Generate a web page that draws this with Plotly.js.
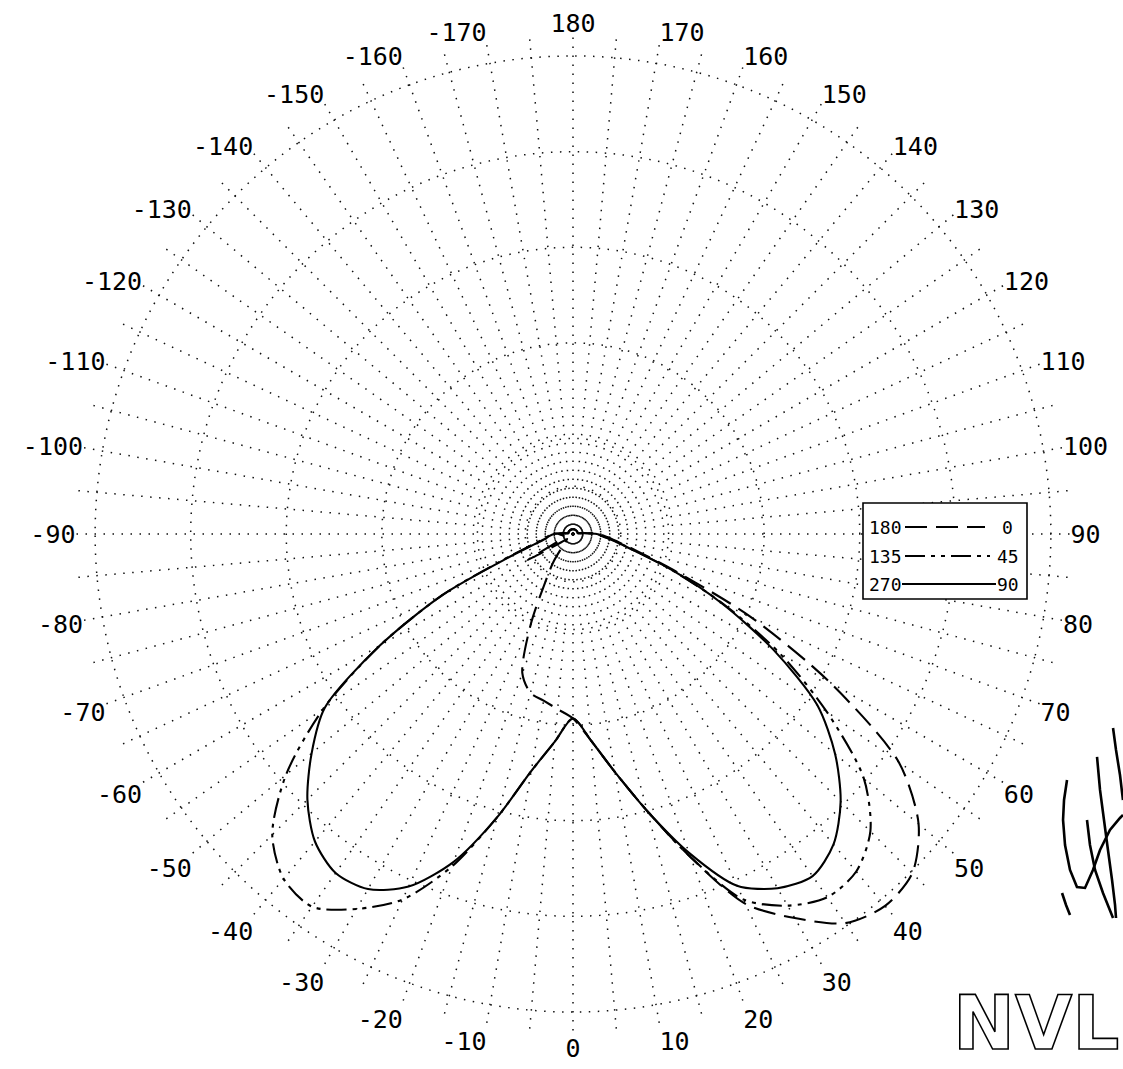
<!DOCTYPE html>
<html><head><meta charset="utf-8">
<script src="https://cdn.plot.ly/plotly-3.0.1.min.js"></script>
<style>html,body{margin:0;padding:0;background:#fff;}</style>
</head><body>
<div id="chart" style="width:1123px;height:1069px;"></div>
<script>
// Vertical angle (0 = nadir), negative = left half-plane, positive = right half-plane
const angles = [-180,-175,-170,-165,-160,-155,-150,-145,-140,-135,-130,-125,-120,-115,-110,-105,-100,
  -95,-90,-85,-80,-75,-70,-65,-60,-55,-50,-45,-40,-35,-30,-25,-20,-15,-10,-5,
  0,
  5,10,15,20,25,30,35,40,45,50,55,60,65,70,75,80,85,90,95,
  100,105,110,115,120,125,130,135,140,145,150,155,160,165,170,175,180];

// Plane C180 (left) - C0 (right)
const plane180_0 = [0.05,0.05,0.05,0.05,0.05,0.05,0.05,0.05,0.05,0.05,0.05,0.05,0.05,0.05,0.05,0.05,0.05,
  0.08,0.15,0.12,0.10,0.10,0.10,0.15,0.55,0.15,0.08,0.10,0.17,0.36,0.58,1.05,1.55,1.72,1.77,1.84,
  1.93,
  2.17,2.53,3.00,3.60,4.27,4.64,4.97,5.08,5.02,4.72,4.16,3.10,2.05,1.15,0.70,0.48,0.36,0.27,0.12,
  0.05,0.05,0.05,0.05,0.05,0.05,0.05,0.05,0.05,0.05,0.05,0.05,0.05,0.05,0.05,0.05,0.05];

// Plane C135 (left) - C45 (right)
const plane135_45 = [0.05,0.05,0.05,0.05,0.05,0.05,0.05,0.05,0.05,0.05,0.05,0.05,0.05,0.05,0.05,0.05,0.05,
  0.10,0.22,0.26,0.32,0.45,0.75,1.50,2.33,3.19,3.92,4.45,4.71,4.76,4.53,4.22,3.70,3.07,2.52,2.18,
  1.93,
  2.17,2.53,3.00,3.60,4.22,4.49,4.64,4.61,4.40,3.97,3.24,2.50,1.74,1.10,0.66,0.46,0.33,0.25,0.10,
  0.05,0.05,0.05,0.05,0.05,0.05,0.05,0.05,0.05,0.05,0.05,0.05,0.05,0.05,0.05,0.05,0.05];

// Plane C270 (left) - C90 (right)
const plane270_90 = [0.05,0.05,0.05,0.05,0.05,0.05,0.05,0.05,0.05,0.05,0.05,0.05,0.05,0.05,0.05,0.05,0.05,
  0.10,0.20,0.25,0.30,0.42,0.72,1.50,2.33,3.17,3.57,3.93,4.20,4.33,4.29,4.07,3.65,3.07,2.52,2.18,
  1.93,
  2.17,2.53,3.00,3.55,4.06,4.28,4.37,4.24,3.96,3.58,3.12,2.42,1.72,1.10,0.65,0.45,0.32,0.25,0.10,
  0.05,0.05,0.05,0.05,0.05,0.05,0.05,0.05,0.05,0.05,0.05,0.05,0.05,0.05,0.05,0.05,0.05];

// Angular tick positions (every 5 deg) and labels (every 10 deg)
const tickAngles = [0,5,10,15,20,25,30,35,40,45,50,55,60,65,70,75,80,85,90,95,100,105,110,115,120,125,130,135,140,145,150,155,160,165,170,175,
  180,185,190,195,200,205,210,215,220,225,230,235,240,245,250,255,260,265,270,275,280,285,290,295,300,305,310,315,320,325,330,335,340,345,350,355];
const tickLabels = ['0','','10','','20','','30','','40','','50','','60','','70','','80','','90','','100','','110','','120','','130','','140','','150','','160','','170','',
  '180','','-170','','-160','','-150','','-140','','-130','','-120','','-110','','-100','','-90','','-80','','-70','','-60','','-50','','-40','','-30','','-20','','-10',''];

const radialGrid = [0.5,1,2,3,4,5];

// legend labels
const legendLeft = ['180','135','270'];
const legendRight = ['0','45','90'];
const dashes = ['22px,9px','20px,6px,4px,6px,4px,6px','solid'];

const W = 1123, H = 1069, ML = 76, MR = 53, MT = 37, MB = 38;
const PW = W - ML - MR, PH = H - MT - MB;
const px = x => (x - ML) / PW;
const py = y => (H - MB - y) / PH;

const series = [plane180_0, plane135_45, plane270_90];
const traces = series.map((r, i) => ({
  type: 'scatterpolar', mode: 'lines', theta: angles, r: r,
  name: legendLeft[i] + '-' + legendRight[i],
  line: {color: '#000', width: 2.1, dash: dashes[i], shape: 'spline', smoothing: 0.8},
  showlegend: false, hoverinfo: 'skip'
}));

const shapes = [];
const annotations = [];
const monoFont = 'DejaVu Sans Mono';

// legend box
shapes.push({type: 'rect', xref: 'paper', yref: 'paper', x0: px(863), x1: px(1027), y0: py(599), y1: py(503),
  line: {color: '#000', width: 1.6}, fillcolor: '#fff', layer: 'above'});
const rowY = [527, 556, 584];
const lineX0 = [905, 905, 902];
const lineX1 = [985, 990, 996];
const rightX = [1000, 995, 995];
for (let i = 0; i < 3; i++) {
  shapes.push({type: 'line', xref: 'paper', yref: 'paper', x0: px(lineX0[i]), x1: px(lineX1[i]), y0: py(rowY[i]), y1: py(rowY[i]),
    line: {color: '#000', width: 1.8, dash: dashes[i]}, layer: 'above'});
  annotations.push({xref: 'paper', yref: 'paper', x: px(904), y: py(rowY[i]), xanchor: 'right', yanchor: 'middle',
    text: legendLeft[i], showarrow: false, font: {family: monoFont, size: 18, color: '#000'}});
  annotations.push({xref: 'paper', yref: 'paper', x: px(rightX[i]), y: py(rowY[i]), xanchor: 'left', yanchor: 'middle',
    text: legendRight[i], showarrow: false, font: {family: monoFont, size: 18, color: '#000'}});
}

// NVL logo (outlined letters), kept inside the page
annotations.push({xref: 'paper', yref: 'paper', x: px(1121), y: py(1068), xanchor: 'right', yanchor: 'bottom',
  text: '<span style="fill:#fff;stroke:#000;stroke-width:1.6">NVL</span>', showarrow: false,
  font: {family: 'DejaVu Sans', size: 74, weight: 'bold', color: '#fff'}});

// signature scribble
const sig = [
  [[1113,728],[1116,750],[1120,775],[1123,800]],
  [[1097,757],[1100,790],[1104,820],[1108,850],[1112,880],[1115,905],[1116,918]],
  [[1067,780],[1064,800],[1063,820],[1065,845],[1070,870],[1077,887],[1085,888],[1093,870],[1100,850],[1110,830],[1120,818],[1123,815]],
  [[1087,820],[1090,845],[1095,870],[1103,893],[1113,918]],
  [[1062,893],[1066,905],[1070,915]]
];
sig.forEach(s => {
  const d = s.map((p, k) => (k ? 'L' : 'M') + px(p[0]).toFixed(4) + ',' + py(p[1]).toFixed(4)).join(' ');
  shapes.push({type: 'path', xref: 'paper', yref: 'paper', path: d, line: {color: '#000', width: 2.6}, layer: 'above'});
});

const layout = {
  width: W, height: H,
  margin: {l: ML, r: MR, t: MT, b: MB, pad: 0},
  paper_bgcolor: '#fff', plot_bgcolor: '#fff',
  showlegend: false,
  polar: {
    domain: {x: [0, 1], y: [0, 1]},
    bgcolor: '#fff',
    radialaxis: {
      range: [0, 5.2], tickvals: radialGrid, showticklabels: false, ticks: '',
      showline: false, showgrid: true, gridcolor: '#111', gridwidth: 1.5, griddash: '1.5px,7.5px'
    },
    angularaxis: {
      rotation: 270, direction: 'counterclockwise',
      tickmode: 'array', tickvals: tickAngles, ticktext: tickLabels,
      showline: false, ticks: '',
      showgrid: true, gridcolor: '#111', gridwidth: 1.5, griddash: '1.5px,7.5px',
      tickfont: {family: monoFont, size: 25, color: '#000'}
    }
  },
  shapes: shapes,
  annotations: annotations
};

Plotly.newPlot('chart', traces, layout, {staticPlot: true, displayModeBar: false});
</script>
</body></html>
